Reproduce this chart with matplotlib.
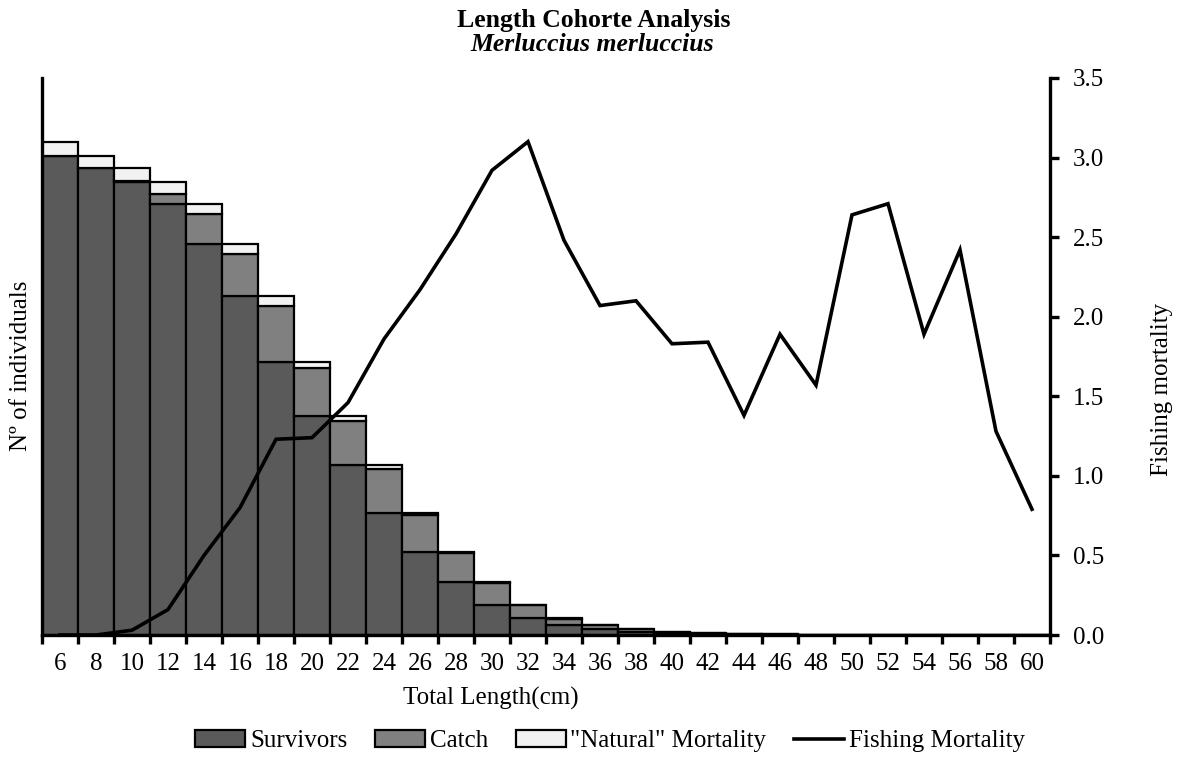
import matplotlib
matplotlib.use("Agg")
import matplotlib.pyplot as plt
from matplotlib.patches import Patch
from matplotlib.lines import Line2D
import numpy as np

plt.rcParams['font.family'] = ['Liberation Serif', 'DejaVu Serif']

lengths = [6, 8, 10, 12, 14, 16, 18, 20, 22, 24, 26, 28, 30, 32, 34, 36, 38, 40,
           42, 44, 46, 48, 50, 52, 54, 56, 58, 60]
survivors = [4793, 4667, 4533, 4310, 3907, 3390, 2733, 2193, 1700, 1223, 833, 533,
             305, 167, 100, 60, 35, 22, 13, 9, 5, 3, 1, 0.3, 0.1, 0.03, 0.01, 0.005]
catch = [0, 0, 4, 97, 300, 420, 560, 474, 440, 437, 367, 287, 220, 133, 64, 38, 24,
         12.5, 8.6, 3.8, 3.8, 1.9, 1.95, 0.68, 0.19, 0.068, 0.019, 0.005]
natural = [140, 126, 130, 126, 103, 97, 97, 66, 53, 40, 23, 13, 8, 5, 3, 2, 1, 0.5,
           0.4, 0.2, 0.2, 0.1, 0.05, 0.02, 0.01, 0.002, 0.001, 0.0]
fishing_mortality = [0.0, 0.0, 0.03, 0.16, 0.50, 0.80, 1.23, 1.24, 1.46, 1.86, 2.17,
                     2.52, 2.92, 3.10, 2.48, 2.07, 2.10, 1.83, 1.84, 1.38, 1.89, 1.57,
                     2.64, 2.71, 1.89, 2.42, 1.28, 0.79]

W, H = 1185, 760
fig = plt.figure(figsize=(W / 100, H / 100), dpi=100)
L, R, T, B = 42, 1050, 78, 635
ax = fig.add_axes([L / W, 1 - B / H, (R - L) / W, (B - T) / H])

FS = 18
x = np.arange(len(lengths))
s = np.array(survivors)
c = np.array(catch)
n = np.array(natural)
ec = 'black'
lw = 1.6
ax.bar(x, s, width=1.0, color='#5a5a5a', edgecolor=ec, linewidth=lw, zorder=2)
ax.bar(x, c, width=1.0, bottom=s, color='#808080', edgecolor=ec, linewidth=lw, zorder=2)
ax.bar(x, n, width=1.0, bottom=s + c, color='#f2f2f2', edgecolor=ec, linewidth=lw, zorder=2)

ax.set_xlim(-0.5, len(lengths) - 0.5)
ax.set_ylim(0, 5570)
ax.set_yticks([])
for side in ['top', 'right']:
    ax.spines[side].set_visible(False)
for side in ['left', 'bottom']:
    ax.spines[side].set_linewidth(2.4)
    ax.spines[side].set_zorder(5)

ax.set_xticks(np.arange(-0.5, len(lengths), 1.0))
ax.set_xticklabels([])
ax.tick_params(axis='x', which='major', length=6.5, width=2.4, direction='out')
ax.set_xticks(x, minor=True)
ax.set_xticklabels([str(v) for v in lengths], minor=True)
ax.tick_params(axis='x', which='minor', length=0, pad=13, labelsize=FS)

ax2 = ax.twinx()
ax2.plot(x, fishing_mortality, color='black', linewidth=2.6, zorder=4,
         solid_joinstyle='miter')
ax2.set_ylim(0, 3.5)
ax2.set_yticks(np.arange(0, 3.51, 0.5))
ax2.set_yticklabels([f"{v:.1f}" for v in np.arange(0, 3.51, 0.5)])
ax2.tick_params(axis='y', length=6.5, width=2.4, pad=10, labelsize=FS)
for side in ['top', 'left', 'bottom']:
    ax2.spines[side].set_visible(False)
ax2.spines['right'].set_linewidth(2.4)

fig.text(594 / W, 1 - 27 / H, 'Length Cohorte Analysis', ha='center', va='baseline',
         fontsize=18.5, fontweight='bold')
fig.text(592 / W, 1 - 51 / H, 'Merluccius merluccius', ha='center', va='baseline',
         fontsize=18.5, fontweight='bold', fontstyle='italic')
fig.text(491 / W, 1 - 705 / H, 'Total Length(cm)', ha='center', va='baseline', fontsize=FS)
fig.text(21 / W, 1 - 366 / H, 'Nº of individuals', ha='center', va='center',
         rotation=90, fontsize=FS)
fig.text(1162 / W, 1 - 389 / H, 'Fishing mortality', ha='center', va='center',
         rotation=90, fontsize=FS)

handles = [Patch(facecolor='#5a5a5a', edgecolor='black', linewidth=1.6),
           Patch(facecolor='#808080', edgecolor='black', linewidth=1.6),
           Patch(facecolor='#f2f2f2', edgecolor='black', linewidth=1.6),
           Line2D([0], [0], color='black', linewidth=2.6)]
labels = ['Survivors', 'Catch', '"Natural" Mortality', 'Fishing Mortality']
fig.legend(handles, labels, loc='center', bbox_to_anchor=(610 / W, 1 - 741 / H),
           ncol=4, frameon=False, fontsize=FS, handlelength=2.0, handleheight=0.65,
           handletextpad=0.2, columnspacing=1.1, borderaxespad=0, borderpad=0)

fig.savefig('out.png', dpi=100)
